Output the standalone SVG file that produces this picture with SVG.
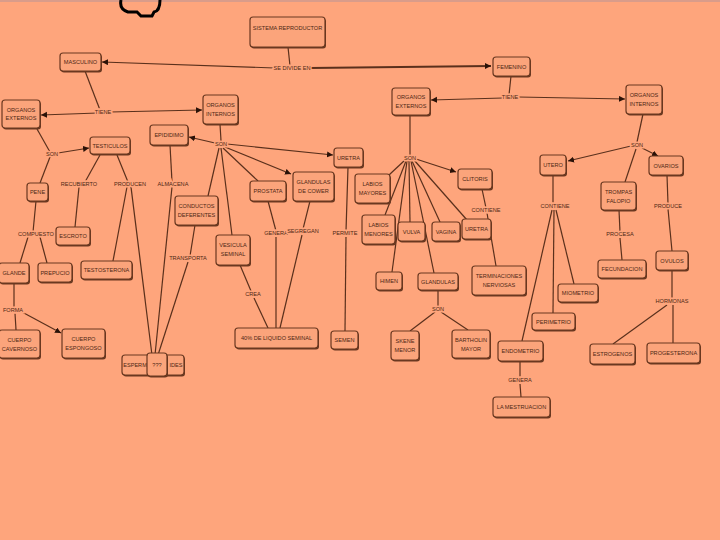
<svg xmlns="http://www.w3.org/2000/svg" width="720" height="540" viewBox="0 0 720 540">
<defs>
<style>
.bg{fill:#FEA57C}
.bx{fill:#FBA47B;stroke:#6a3820;stroke-width:1.2}
.sh{fill:#6a3820}
.t{font-family:"Liberation Sans",Arial,sans-serif;font-size:5.6px;fill:#4e2714;text-anchor:middle}
.lb{font-family:"Liberation Sans",Arial,sans-serif;font-size:5.6px;fill:#4e2714;text-anchor:middle;stroke:#FEA57C;stroke-width:3px;paint-order:stroke}
.c{stroke:#5a301c;stroke-width:1.2;fill:none}
.a{stroke:#5a301c;stroke-width:1.2;fill:none;marker-end:url(#ar)}
</style>
<marker id="ar" markerUnits="userSpaceOnUse" markerWidth="7" markerHeight="7" refX="6" refY="3" orient="auto">
<path d="M0,0 L6,3 L0,6 z" fill="#2a1208"/>
</marker>
</defs>
<rect class="bg" x="0" y="0" width="720" height="540"/>
<rect x="0" y="0" width="720" height="2" fill="#d99c8a"/>
<path d="M121,0 Q119,9 128,12 L137,12 L141,16 L152,16 L154,12 Q160,11 160,0" stroke="#000" stroke-width="3" fill="none"/>

<g id="connectors">
<path class="c" d="M288,47 L290,66"/>
<path class="a" d="M275,68 L102,62"/>
<path class="a" d="M310,68 L491,66" style="stroke-width:2"/>
<path class="c" d="M85,71 L100,110"/>
<path class="a" d="M98,113 L41,115"/>
<path class="a" d="M110,112 L202,110"/>
<path class="c" d="M511,76 L509,95"/>
<path class="a" d="M503,98 L431,100"/>
<path class="a" d="M518,97 L625,99"/>
<path class="c" d="M37,129 L50,152"/>
<path class="a" d="M58,153 L89,148"/>
<path class="c" d="M50,157 L40,183"/>
<path class="c" d="M100,155 L85,182"/>
<path class="c" d="M79,187 L75,227"/>
<path class="c" d="M117,155 L128,182"/>
<path class="c" d="M127,187 L113,261"/>
<path class="c" d="M131,187 L152,355"/>
<path class="c" d="M36,201 L33,232"/>
<path class="c" d="M28,237 L20,263"/>
<path class="c" d="M40,237 L47,263"/>
<path class="c" d="M14,283 L14,308"/>
<path class="c" d="M15,313 L16,330"/>
<path class="a" d="M22,312 L61,333"/>
<path class="c" d="M220,124 L221,141"/>
<path class="a" d="M215,143 L189,137"/>
<path class="a" d="M227,144 L333,155"/>
<path class="a" d="M225,147 L291,174"/>
<path class="c" d="M223,148 L258,181"/>
<path class="c" d="M219,148 L208,196"/>
<path class="c" d="M221,148 L232,235"/>
<path class="c" d="M170,145 L172,182"/>
<path class="c" d="M172,187 L155,355"/>
<path class="c" d="M195,225 L190,256"/>
<path class="c" d="M188,262 L158,355"/>
<path class="c" d="M240,265 L251,291"/>
<path class="c" d="M254,298 L268,328"/>
<path class="c" d="M268,201 L276,231"/>
<path class="c" d="M276,237 L276,328"/>
<path class="c" d="M310,201 L303,229"/>
<path class="c" d="M302,235 L280,328"/>
<path class="c" d="M348,167 L346,231"/>
<path class="c" d="M346,237 L345,331"/>
<path class="c" d="M410,115 L410,155"/>
<path class="a" d="M416,159 L456,172"/>
<path class="c" d="M405,160 L389,175"/>
<path class="c" d="M406,161 L385,215"/>
<path class="c" d="M409,161 L410,222"/>
<path class="c" d="M412,161 L440,222"/>
<path class="c" d="M414,160 L467,220"/>
<path class="c" d="M407,161 L392,272"/>
<path class="c" d="M411,161 L434,273"/>
<path class="c" d="M482,189 L486,208"/>
<path class="c" d="M487,213 L496,266"/>
<path class="c" d="M438,290 L438,306"/>
<path class="c" d="M435,312 L410,331"/>
<path class="c" d="M441,312 L468,330"/>
<path class="c" d="M643,114 L637,142"/>
<path class="a" d="M631,146 L568,161"/>
<path class="c" d="M636,149 L625,182"/>
<path class="a" d="M642,148 L658,156"/>
<path class="c" d="M553,175 L553,203"/>
<path class="c" d="M552,210 L522,341"/>
<path class="c" d="M554,210 L553,313"/>
<path class="c" d="M556,210 L574,284"/>
<path class="c" d="M520,361 L520,378"/>
<path class="c" d="M520,384 L521,397"/>
<path class="c" d="M619,210 L620,232"/>
<path class="c" d="M620,238 L622,260"/>
<path class="c" d="M667,175 L668,204"/>
<path class="c" d="M668,209 L672,251"/>
<path class="c" d="M672,270 L672,299"/>
<path class="c" d="M667,305 L613,344"/>
<path class="c" d="M673,305 L673,343"/>
</g>

<g id="labels">
<text class="lb" x="292" y="70">SE DIVIDE EN</text>
<text class="lb" x="103" y="114">TIENE</text>
<text class="lb" x="510" y="99">TIENE</text>
<text class="lb" x="52" y="156">SON</text>
<text class="lb" x="79" y="186">RECUBIERTO</text>
<text class="lb" x="130" y="186">PRODUCEN</text>
<text class="lb" x="173" y="186">ALMACENA</text>
<text class="lb" x="36" y="236">COMPUESTO</text>
<text class="lb" x="13" y="312">FORMA</text>
<text class="lb" x="188" y="260">TRANSPORTA</text>
<text class="lb" x="221" y="146">SON</text>
<text class="lb" x="253" y="296">CREA</text>
<text class="lb" x="276" y="235">GENERA</text>
<text class="lb" x="303" y="233">SEGREGAN</text>
<text class="lb" x="345" y="235">PERMITE</text>
<text class="lb" x="410" y="160">SON</text>
<text class="lb" x="486" y="212">CONTIENE</text>
<text class="lb" x="438" y="311">SON</text>
<text class="lb" x="637" y="147">SON</text>
<text class="lb" x="555" y="208">CONTIENE</text>
<text class="lb" x="620" y="236">PROCESA</text>
<text class="lb" x="668" y="208">PRODUCE</text>
<text class="lb" x="520" y="382">GENERA</text>
<text class="lb" x="672" y="303">HORMONAS</text>
</g>

<g id="n-sistema"><rect class="sh" x="251" y="18.5" width="75" height="30" rx="3"/><rect class="bx" x="250" y="17" width="75" height="30" rx="3"/><text class="t" x="287.5" y="30">SISTEMA REPRODUCTOR</text></g>
<g id="n-masculino"><rect class="sh" x="61" y="54.5" width="41" height="18" rx="3"/><rect class="bx" x="60" y="53" width="41" height="18" rx="3"/><text class="t" x="80.5" y="64">MASCULINO</text></g>
<g id="n-femenino"><rect class="sh" x="494" y="58.5" width="37" height="19" rx="3"/><rect class="bx" x="493" y="57" width="37" height="19" rx="3"/><text class="t" x="511.5" y="68.5">FEMENINO</text></g>
<g id="n-oe-m"><rect class="sh" x="3" y="101.5" width="38" height="28" rx="3"/><rect class="bx" x="2" y="100" width="38" height="28" rx="3"/><text class="t" x="21" y="112">ORGANOS</text><text class="t" x="21" y="120">EXTERNOS</text></g>
<g id="n-oi-m"><rect class="sh" x="204" y="96.5" width="35" height="29" rx="3"/><rect class="bx" x="203" y="95" width="35" height="29" rx="3"/><text class="t" x="220.5" y="107">ORGANOS</text><text class="t" x="220.5" y="116">INTERNOS</text></g>
<g id="n-oe-f"><rect class="sh" x="393" y="89.5" width="38" height="27" rx="3"/><rect class="bx" x="392" y="88" width="38" height="27" rx="3"/><text class="t" x="411" y="99">ORGANOS</text><text class="t" x="411" y="108">EXTERNOS</text></g>
<g id="n-oi-f"><rect class="sh" x="627" y="86.5" width="36" height="29" rx="3"/><rect class="bx" x="626" y="85" width="36" height="29" rx="3"/><text class="t" x="644" y="97">ORGANOS</text><text class="t" x="644" y="106">INTERNOS</text></g>
<g id="n-testiculos"><rect class="sh" x="91" y="138.5" width="40" height="17" rx="3"/><rect class="bx" x="90" y="137" width="40" height="17" rx="3"/><text class="t" x="110" y="147.5">TESTICULOS</text></g>
<g id="n-pene"><rect class="sh" x="28" y="184.5" width="21" height="18" rx="3"/><rect class="bx" x="27" y="183" width="21" height="18" rx="3"/><text class="t" x="37.5" y="194">PENE</text></g>
<g id="n-escroto"><rect class="sh" x="57" y="228.5" width="34" height="18" rx="3"/><rect class="bx" x="56" y="227" width="34" height="18" rx="3"/><text class="t" x="73" y="238">ESCROTO</text></g>
<g id="n-glande"><rect class="sh" x="0" y="264.5" width="30" height="20" rx="3"/><rect class="bx" x="-1" y="263" width="30" height="20" rx="3"/><text class="t" x="14" y="275">GLANDE</text></g>
<g id="n-prepucio"><rect class="sh" x="39" y="264.5" width="34" height="19" rx="3"/><rect class="bx" x="38" y="263" width="34" height="19" rx="3"/><text class="t" x="55" y="274.5">PREPUCIO</text></g>
<g id="n-testosterona"><rect class="sh" x="82" y="262.5" width="51" height="18" rx="3"/><rect class="bx" x="81" y="261" width="51" height="18" rx="3"/><text class="t" x="106.5" y="272">TESTOSTERONA</text></g>
<g id="n-cavernoso"><rect class="sh" x="0" y="331.5" width="41" height="28" rx="3"/><rect class="bx" x="-1" y="330" width="41" height="28" rx="3"/><text class="t" x="19.5" y="342">CUERPO</text><text class="t" x="19.5" y="351">CAVERNOSO</text></g>
<g id="n-esponjoso"><rect class="sh" x="63" y="330.5" width="43" height="29" rx="3"/><rect class="bx" x="62" y="329" width="43" height="29" rx="3"/><text class="t" x="83.5" y="341">CUERPO</text><text class="t" x="83.5" y="350">ESPONGOSO</text></g>
<g id="n-espermatozoides"><rect class="sh" x="123" y="356.5" width="62" height="20" rx="3"/><rect class="bx" x="122" y="355" width="62" height="20" rx="3"/><text class="t" x="135" y="367">ESPERM</text><text class="t" x="176" y="367">IDES</text></g>
<g id="n-interrogante"><rect class="sh" x="148" y="354.5" width="20" height="23" rx="3"/><rect class="bx" x="147" y="353" width="20" height="23" rx="3"/><text class="t" x="157" y="366.5">???</text></g>
<g id="n-epididimo"><rect class="sh" x="151" y="126.5" width="38" height="20" rx="3"/><rect class="bx" x="150" y="125" width="38" height="20" rx="3"/><text class="t" x="169" y="137">EPIDIDIMO</text></g>
<g id="n-conductos"><rect class="sh" x="176" y="197.5" width="43" height="29" rx="3"/><rect class="bx" x="175" y="196" width="43" height="29" rx="3"/><text class="t" x="196.5" y="208">CONDUCTOS</text><text class="t" x="196.5" y="217">DEFERENTES</text></g>
<g id="n-vesicula"><rect class="sh" x="217" y="236.5" width="34" height="30" rx="3"/><rect class="bx" x="216" y="235" width="34" height="30" rx="3"/><text class="t" x="233" y="247">VESICULA</text><text class="t" x="233" y="256">SEMINAL</text></g>
<g id="n-prostata"><rect class="sh" x="251" y="182.5" width="36" height="20" rx="3"/><rect class="bx" x="250" y="181" width="36" height="20" rx="3"/><text class="t" x="268" y="193">PROSTATA</text></g>
<g id="n-cower"><rect class="sh" x="294" y="173.5" width="41" height="29" rx="3"/><rect class="bx" x="293" y="172" width="41" height="29" rx="3"/><text class="t" x="313.5" y="184">GLANDULAS</text><text class="t" x="313.5" y="193">DE COWER</text></g>
<g id="n-uretra-m"><rect class="sh" x="335" y="149.5" width="29" height="19" rx="3"/><rect class="bx" x="334" y="148" width="29" height="19" rx="3"/><text class="t" x="348.5" y="159.5">URETRA</text></g>
<g id="n-liquido"><rect class="sh" x="236" y="329.5" width="83" height="20" rx="3"/><rect class="bx" x="235" y="328" width="83" height="20" rx="3"/><text class="t" x="276.5" y="340">40% DE LIQUIDO SEMINAL</text></g>
<g id="n-semen"><rect class="sh" x="332" y="332.5" width="27" height="18" rx="3"/><rect class="bx" x="331" y="331" width="27" height="18" rx="3"/><text class="t" x="344.5" y="342">SEMEN</text></g>
<g id="n-labios-mayores"><rect class="sh" x="356" y="175.5" width="35" height="29" rx="3"/><rect class="bx" x="355" y="174" width="35" height="29" rx="3"/><text class="t" x="372.5" y="186">LABIOS</text><text class="t" x="372.5" y="195">MAYORES</text></g>
<g id="n-labios-menores"><rect class="sh" x="363" y="216.5" width="33" height="29" rx="3"/><rect class="bx" x="362" y="215" width="33" height="29" rx="3"/><text class="t" x="378.5" y="227">LABIOS</text><text class="t" x="378.5" y="236">MENORES</text></g>
<g id="n-vulva"><rect class="sh" x="399" y="223.5" width="27" height="19" rx="3"/><rect class="bx" x="398" y="222" width="27" height="19" rx="3"/><text class="t" x="411.5" y="233.5">VULVA</text></g>
<g id="n-vagina"><rect class="sh" x="433" y="223.5" width="28" height="19" rx="3"/><rect class="bx" x="432" y="222" width="28" height="19" rx="3"/><text class="t" x="446" y="233.5">VAGINA</text></g>
<g id="n-uretra-f"><rect class="sh" x="463" y="220.5" width="29" height="20" rx="3"/><rect class="bx" x="462" y="219" width="29" height="20" rx="3"/><text class="t" x="476.5" y="231">URETRA</text></g>
<g id="n-clitoris"><rect class="sh" x="459" y="170.5" width="34" height="20" rx="3"/><rect class="bx" x="458" y="169" width="34" height="20" rx="3"/><text class="t" x="475" y="181">CLITORIS</text></g>
<g id="n-himen"><rect class="sh" x="377" y="273.5" width="26" height="18" rx="3"/><rect class="bx" x="376" y="272" width="26" height="18" rx="3"/><text class="t" x="389" y="283">HIMEN</text></g>
<g id="n-glandulas"><rect class="sh" x="419" y="274.5" width="40" height="17" rx="3"/><rect class="bx" x="418" y="273" width="40" height="17" rx="3"/><text class="t" x="438" y="283.5">GLANDULAS</text></g>
<g id="n-terminaciones"><rect class="sh" x="473" y="267.5" width="54" height="29" rx="3"/><rect class="bx" x="472" y="266" width="54" height="29" rx="3"/><text class="t" x="499" y="278">TERMINACIONES</text><text class="t" x="499" y="287">NERVIOSAS</text></g>
<g id="n-skene"><rect class="sh" x="392" y="332.5" width="28" height="29" rx="3"/><rect class="bx" x="391" y="331" width="28" height="29" rx="3"/><text class="t" x="405" y="343">SKENE</text><text class="t" x="405" y="352">MENOR</text></g>
<g id="n-bartholin"><rect class="sh" x="453" y="331.5" width="38" height="28" rx="3"/><rect class="bx" x="452" y="330" width="38" height="28" rx="3"/><text class="t" x="471" y="342">BARTHOLIN</text><text class="t" x="471" y="351">MAYOR</text></g>
<g id="n-utero"><rect class="sh" x="541" y="156.5" width="26" height="20" rx="3"/><rect class="bx" x="540" y="155" width="26" height="20" rx="3"/><text class="t" x="553" y="167">UTERO</text></g>
<g id="n-trompas"><rect class="sh" x="602" y="183.5" width="35" height="28" rx="3"/><rect class="bx" x="601" y="182" width="35" height="28" rx="3"/><text class="t" x="618.5" y="194">TROMPAS</text><text class="t" x="618.5" y="203">FALOPIO</text></g>
<g id="n-ovarios"><rect class="sh" x="650" y="157.5" width="34" height="19" rx="3"/><rect class="bx" x="649" y="156" width="34" height="19" rx="3"/><text class="t" x="666" y="167.5">OVARIOS</text></g>
<g id="n-miometrio"><rect class="sh" x="559" y="285.5" width="40" height="18" rx="3"/><rect class="bx" x="558" y="284" width="40" height="18" rx="3"/><text class="t" x="578" y="295">MIOMETRIO</text></g>
<g id="n-perimetrio"><rect class="sh" x="533" y="314.5" width="43" height="17" rx="3"/><rect class="bx" x="532" y="313" width="43" height="17" rx="3"/><text class="t" x="553.5" y="323.5">PERIMETRIO</text></g>
<g id="n-endometrio"><rect class="sh" x="499" y="342.5" width="45" height="20" rx="3"/><rect class="bx" x="498" y="341" width="45" height="20" rx="3"/><text class="t" x="520.5" y="353">ENDOMETRIO</text></g>
<g id="n-mestruacion"><rect class="sh" x="494" y="398.5" width="57" height="20" rx="3"/><rect class="bx" x="493" y="397" width="57" height="20" rx="3"/><text class="t" x="521.5" y="409">LA MESTRUACION</text></g>
<g id="n-fecundacion"><rect class="sh" x="599" y="261.5" width="48" height="18" rx="3"/><rect class="bx" x="598" y="260" width="48" height="18" rx="3"/><text class="t" x="622" y="271">FECUNDACION</text></g>
<g id="n-ovulos"><rect class="sh" x="657" y="252.5" width="32" height="19" rx="3"/><rect class="bx" x="656" y="251" width="32" height="19" rx="3"/><text class="t" x="672" y="262.5">OVULOS</text></g>
<g id="n-estrogenos"><rect class="sh" x="591" y="345.5" width="45" height="20" rx="3"/><rect class="bx" x="590" y="344" width="45" height="20" rx="3"/><text class="t" x="612.5" y="356">ESTROGENOS</text></g>
<g id="n-progesterona"><rect class="sh" x="648" y="344.5" width="53" height="20" rx="3"/><rect class="bx" x="647" y="343" width="53" height="20" rx="3"/><text class="t" x="673.5" y="355">PROGESTERONA</text></g>
</svg>
